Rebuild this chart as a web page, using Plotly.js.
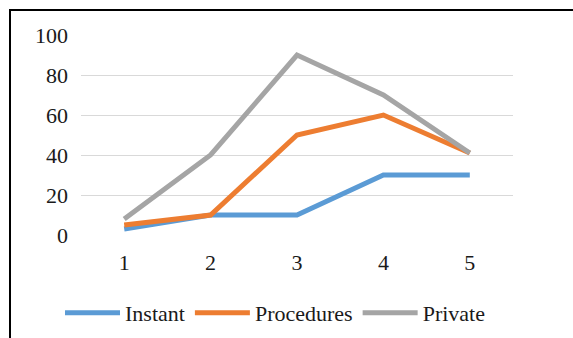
<!DOCTYPE html>
<html><head><meta charset="utf-8">
<script src="https://cdn.plot.ly/plotly-3.0.1.min.js"></script>
<style>html,body{margin:0;padding:0;background:#fff;}#chart{width:573px;height:338px;}</style>
</head><body><div id="chart"></div>
<script>
const categories = ['1', '2', '3', '4', '5'];
const instant = [3, 10, 10, 30, 30];
const procedures = [5, 10, 50, 60, 41];
const privateVals = [8, 40, 90, 70, 41];
const seriesNames = ['Instant', 'Procedures', 'Private'];
const yTicks = [0, 20, 40, 60, 80, 100];

const FONT = 'Times New Roman';
const colors = ['#5B9BD5', '#ED7D31', '#A5A5A5'];
const vals = [instant, procedures, privateVals];
const traces = vals.map((v, i) => ({
  x: categories, y: v, name: seriesNames[i], type: 'scatter', mode: 'lines',
  line: {color: colors[i], width: 5}
}));
const W = 432, H = 200, L = 81, T = 35;
const px = x => (x - L) / W;
const py = y => (T + H - y) / H;
const layout = {
  width: 573, height: 338,
  margin: {l: L, r: 573 - L - W, t: T, b: 338 - T - H, autoexpand: false},
  paper_bgcolor: '#fff', plot_bgcolor: '#fff',
  font: {family: FONT, size: 22, color: '#1a1a1a'},
  showlegend: true,
  legend: {orientation: 'h', x: px(60), xanchor: 'left', y: py(313), yanchor: 'middle',
           font: {family: FONT, size: 22, color: '#1a1a1a'}, itemwidth: 55, tracegroupgap: 0},
  xaxis: {type: 'category', showgrid: false, zeroline: false, showline: false,
          ticks: '', ticklabelstandoff: 12, range: [-0.5, 4.5]},
  yaxis: {range: [0, 100], tickvals: yTicks, ticktext: yTicks.map(String), showgrid: true,
          gridcolor: '#d9d9d9', gridwidth: 1, zeroline: false, showline: false, ticks: '',
          ticklabelstandoff: 12},
  shapes: [{type: 'path', xref: 'paper', yref: 'paper',
            path: `M ${px(10)} ${py(345)} L ${px(10)} ${py(10)} L ${px(580)} ${py(10)}`,
            line: {color: '#000', width: 2}}]
};
Plotly.newPlot('chart', traces, layout, {displayModeBar: false, staticPlot: true});
</script></body></html>
